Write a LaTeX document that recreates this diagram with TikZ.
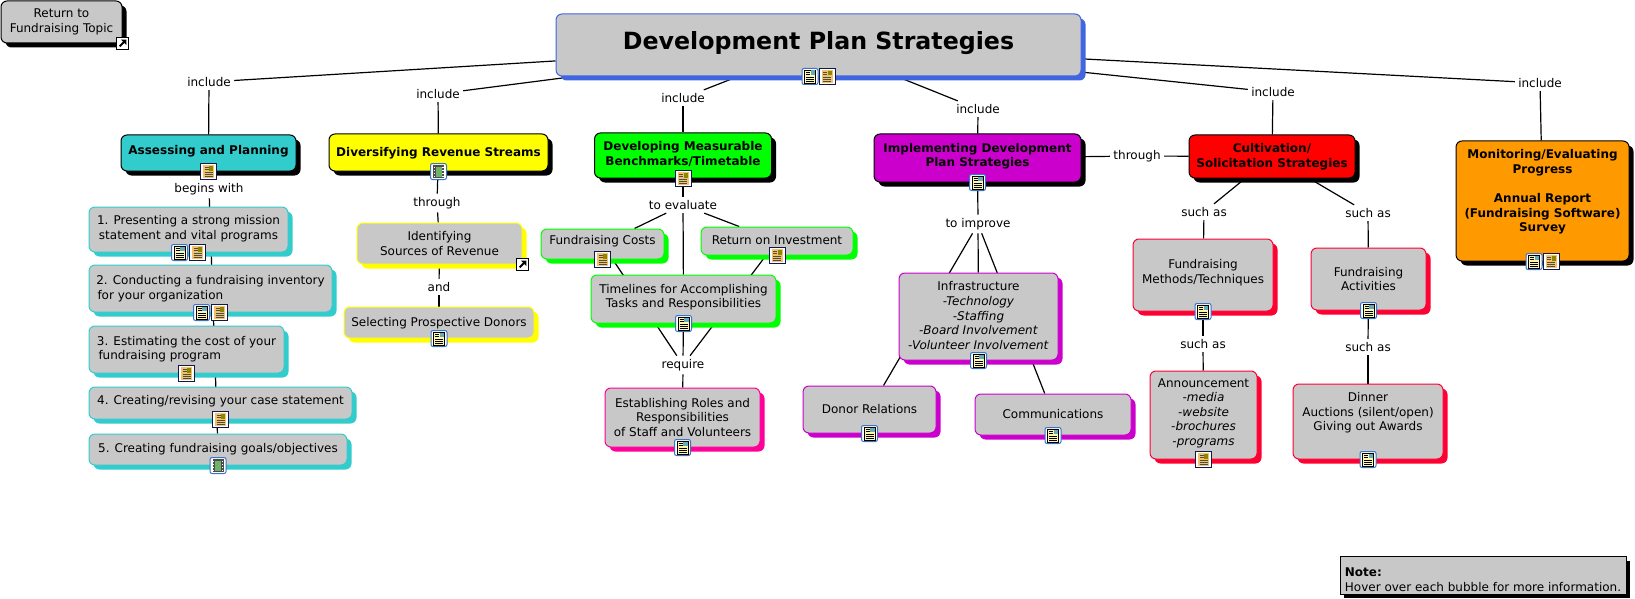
\documentclass[tikz,border=0pt]{standalone}
\usepackage{fontspec}
\setmainfont{DejaVu Sans}
\usetikzlibrary{shadows}
\pgfdeclarelayer{background}
\pgfsetlayers{background,main}
\definecolor{boxgrey}{HTML}{C8C8C8}
\definecolor{mainblue}{HTML}{3F66E0}
\definecolor{teal1}{HTML}{33CCCC}
\definecolor{yellow1}{HTML}{FFFF00}
\definecolor{green1}{HTML}{00FF00}
\definecolor{purple1}{HTML}{CC00CC}
\definecolor{red1}{HTML}{FF0000}
\definecolor{crimson1}{HTML}{FF0033}
\definecolor{orange1}{HTML}{FF9900}
\definecolor{pink1}{HTML}{FF0099}
\definecolor{iconblue}{HTML}{3A74C8}
\definecolor{iconcream}{HTML}{FFF6B0}
\definecolor{iconorange}{HTML}{F2C268}
\definecolor{iconnavy}{HTML}{10184A}
\definecolor{icongreen}{HTML}{6FB36A}
\newcommand{\bubblefont}{\fontsize{12}{14.6}\selectfont}
\tikzset{
	bubble/.style={rectangle,rounded corners=6pt,fill=boxgrey,align=center,inner sep=0pt,line width=1pt},
	parent/.style={bubble,draw=black,fill=#1,font=\bubblefont\bfseries,
		general shadow={shadow xshift=4.5pt,shadow yshift=-4.5pt,fill=black}},
	child/.style={bubble,draw=#1,font=\bubblefont,
		general shadow={shadow xshift=4.5pt,shadow yshift=-4.5pt,fill=#1}},
	linkword/.style={inner sep=3pt,yshift=-1pt,font=\bubblefont},
	docicon/.pic={
		\draw[iconblue,fill=white,rounded corners=2pt,line width=1pt] (-8,-8) rectangle (8,8);
		\draw[black,fill=iconcream,line width=.6pt] (-5.5,-6.5) rectangle (5.5,6.5);
		\fill[blue!55!green!60] (.5,-6) rectangle (5,-1.5);
		\foreach \y in {-4,-2}
			\draw[black,line width=.7pt] (-4,\y) -- (0,\y);
		\foreach \y in {0.5,3,5}
			\draw[black,line width=.7pt] (-4,\y) -- (4,\y);
	},
	sheeticon/.pic={
		\draw[iconnavy,fill=white,line width=1pt] (-8,-8) rectangle (8,8);
		\fill[iconorange] (-5.5,-6.5) rectangle (5.5,6.5);
		\fill[olive] (.5,-5.5) rectangle (4.5,-1);
		\foreach \y in {-4,-2}
			\draw[black!70,line width=.7pt] (-4,\y) -- (0,\y);
		\foreach \y in {1,3,5}
			\draw[black!70,line width=.7pt] (-4,\y) -- (4,\y);
	},
	filmicon/.pic={
		\draw[iconblue,fill=white,rounded corners=2pt,line width=1pt] (-8,-8) rectangle (8,8);
		\fill[black!70] (-5.5,-6.5) rectangle (5.5,6.5);
		\fill[icongreen] (-3,-5) rectangle (3,5);
		\foreach \y in {-5,-2,1,4}
			{\fill[white] (-5,\y) rectangle (-3.8,\y+1.2);
			\fill[white] (3.8,\y) rectangle (5,\y+1.2);}
	},
	linkicon/.pic={
		\draw[black,fill=white,line width=1pt] (-6,-6) rectangle (6,6);
		\draw[black,line width=2pt] (-2.8,2.8) -- (2,-2);
		\fill[black] (-1.5,-3.8) -- (3.8,-3.8) -- (3.8,1.5) -- cycle;
	}
}
\begin{document}
\begin{tikzpicture}
	[x=1pt,y=-1pt,line width=1pt]
	\useasboundingbox (0,0) rectangle (1635,599);

	\node[bubble,draw=black,general shadow={shadow xshift=4.5pt,shadow yshift=-4.5pt,fill=black},font=\bubblefont,minimum width=121pt,minimum height=42pt] (back) at (61.5,22) {Return to\\Fundraising Topic};
	\node[bubble,draw=mainblue,general shadow={shadow xshift=4.5pt,shadow yshift=-4.5pt,fill=mainblue},font=\fontsize{23.7}{29}\selectfont\bfseries,minimum width=525pt,minimum height=62pt] (main) at (818.5,45) {Development Plan Strategies\\[-19.2pt]};

	\node[parent=teal1,minimum width=175pt,minimum height=36pt] (assess) at (208.5,153) {Assessing and Planning\\[-8.6pt]};
	\node[parent=yellow1,minimum width=219pt,minimum height=37pt] (divers) at (438.5,152.5) {Diversifying Revenue Streams\\[-12.6pt]};
	\node[parent=green1,minimum width=177pt,minimum height=45pt] (bench) at (683,155.5) {Developing Measurable\\Benchmarks/Timetable\\[-10.6pt]};
	\node[parent=purple1,minimum width=207pt,minimum height=48pt] (implem) at (977.5,158) {Implementing Development\\Plan Strategies\\[-8.6pt]};
	\node[parent=red1,minimum width=166pt,minimum height=43pt] (cultiv) at (1272,156.5) {Cultivation/\\Solicitation Strategies};
	\node[parent=orange1,minimum width=173pt,minimum height=120pt] (monitor) at (1542.5,201) {Monitoring/Evaluating\\Progress\\[14.6pt]Annual Report\\(Fundraising Software)\\Survey\\[6pt]};

	\node[linkword] (inc1) at (209,81) {include};
	\node[linkword] (inc2) at (438,93) {include};
	\node[linkword] (inc3) at (683,97) {include};
	\node[linkword] (inc4) at (978,108) {include};
	\node[linkword] (inc5) at (1273,91) {include};
	\node[linkword] (inc6) at (1540,82) {include};
	\node[linkword] (begins) at (209,188) {begins with};
	\node[linkword] (thr1) at (437,202) {through};
	\node[linkword] (and) at (439,286) {and};
	\node[linkword] (eval) at (683,204) {to evaluate};
	\node[linkword] (requ) at (683,364) {require};
	\node[linkword] (improve) at (978,223) {to improve};
	\node[linkword] (thr2) at (1137,155) {through};
	\node[linkword] (such1) at (1204,211) {such as};
	\node[linkword] (such2) at (1368,212) {such as};
	\node[linkword] (such3) at (1203,343) {such as};
	\node[linkword] (such4) at (1368,346) {such as};

	\node[child=teal1,minimum width=199pt,minimum height=45pt] (step1) at (188.5,229.5) {1. Presenting a strong mission\\statement and vital programs\\[-10.6pt]};
	\node[child=teal1,minimum width=243pt,minimum height=47pt] (step2) at (210.5,288.5) {2. Conducting a fundraising inventory\\\hbox to 226pt{for your organization\hss}};
	\node[child=teal1,minimum width=195pt,minimum height=47pt] (step3) at (186.5,349.5) {3. Estimating the cost of your\\\hbox to 176pt{fundraising program\hss}\\[-11.8pt]};
	\node[child=teal1,minimum width=263pt,minimum height=32pt] (step4) at (220.5,403) {4. Creating/revising your case statement\\[-8.6pt]};
	\node[child=teal1,minimum width=258pt,minimum height=31pt] (step5) at (218,449.5) {5. Creating fundraising goals/objectives\\[-10.6pt]};

	\node[child=yellow1,minimum width=165pt,minimum height=41pt] (sources) at (439.5,243.5) {Identifying\\Sources of Revenue};
	\node[child=yellow1,minimum width=190pt,minimum height=31pt] (donors) at (439,322.5) {Selecting Prospective Donors\\[-12.6pt]};

	\node[child=green1,minimum width=123pt,minimum height=30pt] (costs) at (602.5,244) {Fundraising Costs\\[-6.6pt]};
	\node[child=green1,minimum width=152pt,minimum height=28pt] (roi) at (777,241) {Return on Investment\\[-12.6pt]};
	\node[child=green1,minimum width=185pt,minimum height=48pt] (time) at (683.5,299) {Timelines for Accomplishing\\Tasks and Responsibilities\\[-8.6pt]};
	\node[child=pink1,minimum width=155pt,minimum height=59pt] (roles) at (682.5,417.5) {Establishing Roles and\\Responsibilities\\of Staff and Volunteers};

	\node[child=purple1,minimum width=159pt,minimum height=87pt] (infra) at (978.5,316.5) {Infrastructure\\\textit{-Technology}\\\textit{-Staffing}\\\textit{-Board Involvement}\\\textit{-Volunteer Involvement}\\[-12.6pt]};
	\node[child=purple1,minimum width=133pt,minimum height=47pt] (relat) at (869.5,409.5) {Donor Relations\\[-12.6pt]};
	\node[child=purple1,minimum width=156pt,minimum height=41pt] (commun) at (1053,414.5) {Communications\\[-12.6pt]};

	\node[child=crimson1,minimum width=140pt,minimum height=72pt] (methods) at (1203,275) {Fundraising\\Methods/Techniques\\[-7.6pt]};
	\node[child=crimson1,minimum width=115pt,minimum height=62pt] (activ) at (1368.5,279) {Fundraising\\Activities};
	\node[child=crimson1,minimum width=107pt,minimum height=88pt] (announce) at (1203.5,415) {Announcement\\\textit{-media}\\\textit{-website}\\\textit{-brochures}\\\textit{-programs}\\[-8.6pt]};
	\node[child=crimson1,minimum width=150pt,minimum height=75pt] (dinner) at (1368,421.5) {Dinner\\Auctions (silent/open)\\Giving out Awards\\[5.4pt]};

	\node[rectangle,draw=black,fill=boxgrey,line width=1pt,general shadow={shadow xshift=4pt,shadow yshift=-4pt,fill=black},minimum width=286pt,minimum height=35pt,inner sep=3pt,align=left,font=\bubblefont] (note) at (1483,575.5) {\rule{0pt}{17pt}\textbf{Note:}\\Hover over each bubble for more information.};

	\begin{pgfonlayer}{background}
	\foreach \from/\to in
	{main/inc1, main/inc2, main/inc3, main/inc4, main/inc5, main/inc6,
	inc1/assess, inc2/divers, inc3/bench, inc4/implem, inc5/cultiv, inc6/monitor,
	assess/begins, begins/step5,
	divers/thr1, thr1/sources, sources/and, and/donors,
	bench/eval, eval/costs, eval/time, eval/roi,
	costs/requ, time/requ, roi/requ, requ/roles,
	implem/improve, improve/infra, improve/relat, improve/commun,
	implem/thr2, thr2/cultiv,
	cultiv/such1, cultiv/such2, such1/methods, such2/activ,
	methods/such3, such3/announce, activ/such4, such4/dinner}
	\draw[line width=1.2pt] (\from) -- (\to);
	\end{pgfonlayer}

	\pic at (back.south east) {linkicon};
	\pic at (sources.south east) {linkicon};
	\pic[xshift=-8.5pt] at (main.south) {docicon};
	\pic[xshift=8.5pt] at (main.south) {sheeticon};
	\pic[xshift=-9pt] at (step1.south) {docicon};
	\pic[xshift=9pt] at (step1.south) {sheeticon};
	\pic[xshift=-9pt] at (step2.south) {docicon};
	\pic[xshift=9pt] at (step2.south) {sheeticon};
	\pic[xshift=-8.5pt] at (monitor.south) {docicon};
	\pic[xshift=8.5pt] at (monitor.south) {sheeticon};
	\foreach \n in {step3,step4,assess,bench,costs,roi,announce}
		\pic at (\n.south) {sheeticon};
	\foreach \n in {donors,time,roles,implem,infra,relat,commun,methods,activ,dinner}
		\pic at (\n.south) {docicon};
	\foreach \n in {divers,step5}
		\pic at (\n.south) {filmicon};
\end{tikzpicture}
\end{document}
